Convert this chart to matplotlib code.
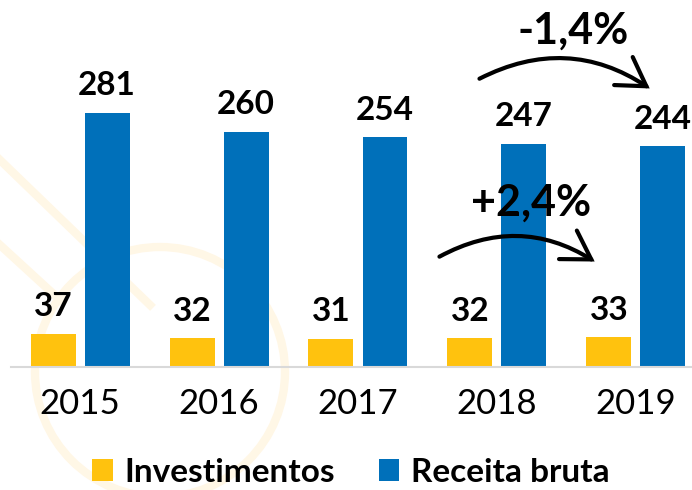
import matplotlib
matplotlib.use("Agg")
import matplotlib.pyplot as plt
import numpy as np
from matplotlib.patches import Ellipse, FancyArrowPatch
from matplotlib.lines import Line2D

years = ["2015", "2016", "2017", "2018", "2019"]
investimentos = [37, 32, 31, 32, 33]
receita = [281, 260, 254, 247, 244]
series_names = ["Investimentos", "Receita bruta"]
var_receita = "-1,4%"
var_invest = "+2,4%"

YELLOW = "#FFC20E"
BLUE = "#0070BA"
FONT = ["Lato", "DejaVu Sans"]
plt.rcParams["font.family"] = FONT

W, H = 692, 490
fig = plt.figure(figsize=(W / 100, H / 100), dpi=100)

# faint watermark (figure pixel coords)
wm = "#FFF7E6"
def fx(px): return px / W
def fy(py): return 1 - py / H
fig.patches.append(Ellipse((fx(160), fy(372)), 250 / W, 250 / H, transform=fig.transFigure,
                           fill=False, ec=wm, lw=6, zorder=-5))
fig.lines.append(Line2D([fx(0), fx(150)], [fy(160), fy(305)], transform=fig.transFigure,
                        color=wm, lw=6, zorder=-5))
fig.lines.append(Line2D([fx(0), fx(60)], [fy(245), fy(300)], transform=fig.transFigure,
                        color=wm, lw=6, zorder=-5))

base_px = 367
ax = fig.add_axes([11 / W, 1 - base_px / H, 1 - 11 / W, base_px / H])
ax.patch.set_alpha(0)
px_per_unit = 0.904
ax.set_ylim(0, base_px / px_per_unit)
spacing = 139.0
ax.set_xlim((11 - 80) / spacing, (692 - 80) / spacing)

x = np.arange(len(years))
bw = 45 / spacing
off = 27 / spacing
b1 = ax.bar(x - off, investimentos, bw, color=YELLOW, label=series_names[0], zorder=2)
b2 = ax.bar(x + off, receita, bw, color=BLUE, label=series_names[1], zorder=2)

for bars, vals in ((b1, investimentos), (b2, receita)):
    for r, v in zip(bars, vals):
        ax.annotate(str(v), (r.get_x() + r.get_width() / 2, v), xytext=(0, 9),
                    textcoords="offset points", ha="center", va="bottom",
                    fontsize=24, fontweight="bold", color="black")

for s in ["top", "right", "left"]:
    ax.spines[s].set_visible(False)
ax.spines["bottom"].set_color("#D9D9D9")
ax.spines["bottom"].set_linewidth(1.5)
ax.set_yticks([])
ax.set_xticks(x)
ax.set_xticklabels(years, fontsize=25)
ax.tick_params(axis="x", length=0, pad=15)

def arr(x0, y0, x1, y1, rad):
    p = FancyArrowPatch((x0, y0), (x1, y1), connectionstyle=f"arc3,rad={rad}",
                        arrowstyle="->,head_length=0.9,head_width=0.55",
                        mutation_scale=22, lw=3, color="black", zorder=5,
                        capstyle="round", joinstyle="miter")
    ax.add_patch(p)

def dy(py): return (base_px - py) / px_per_unit
def dx(px): return (px - 80) / spacing

arr(dx(477), dy(80), dx(652), dy(90), -0.3)
ax.text(dx(573), dy(31), var_receita, ha="center", va="center", fontsize=31, fontweight="bold")
arr(dx(437), dy(258), dx(597), dy(263), -0.3)
ax.text(dx(531), dy(203), var_invest, ha="center", va="center", fontsize=31, fontweight="bold")

leg = fig.legend(handles=[b1, b2], labels=series_names, loc="center",
                 bbox_to_anchor=(351 / W, 1 - 472 / H), ncol=2, frameon=False,
                 prop={"family": FONT, "weight": "bold", "size": 24},
                 handlelength=0.62, handleheight=0.62, handletextpad=0.35, columnspacing=1.3)

fig.savefig("out.png", dpi=100)
